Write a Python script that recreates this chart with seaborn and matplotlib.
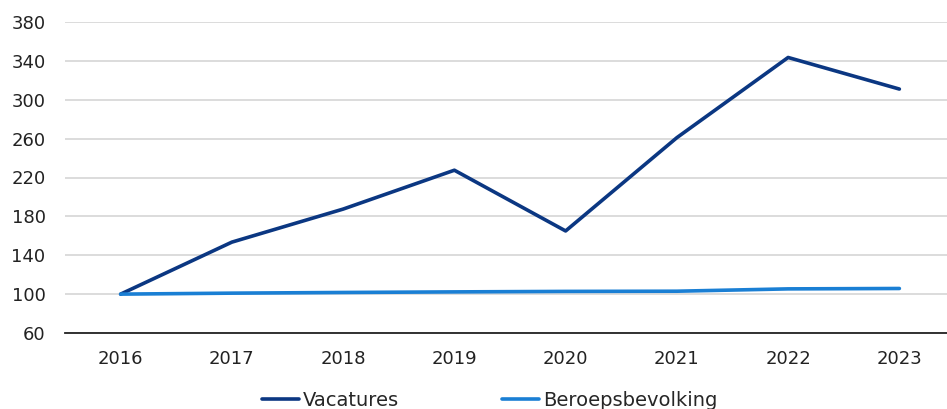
import matplotlib
matplotlib.use("Agg")
import matplotlib.pyplot as plt
import seaborn as sns
import pandas as pd

years = ["2016", "2017", "2018", "2019", "2020", "2021", "2022", "2023"]
vacatures = [100, 153.5, 187.5, 227.5, 165, 261, 343.5, 311]
beroepsbevolking = [100, 101, 101.7, 102.3, 102.8, 103.0, 105.4, 105.8]
series_names = ["Vacatures", "Beroepsbevolking"]
colors = ["#0b3782", "#1a7fd4"]

df = pd.DataFrame({
    "jaar": years * 2,
    "index": vacatures + beroepsbevolking,
    "reeks": [series_names[0]] * len(years) + [series_names[1]] * len(years),
})

sns.set_style("white")
plt.rcParams["font.family"] = ["DejaVu Sans"]

fig = plt.figure(figsize=(9.47, 4.09), dpi=100)
ax = fig.add_axes([65 / 947, 76 / 409, 890 / 947, 311 / 409])

sns.lineplot(data=df, x="jaar", y="index", hue="reeks", palette=colors,
             linewidth=2.6, ax=ax, sort=False)

ax.set_xlim(-0.5, 7.5)
ax.set_ylim(60, 380)
ax.set_yticks(range(60, 381, 40))
ax.yaxis.grid(True, color="#d9d9d9", linewidth=1.3)
ax.set_axisbelow(True)
for side in ["top", "right", "left"]:
    ax.spines[side].set_visible(False)
ax.spines["bottom"].set_color("#222222")
ax.spines["bottom"].set_linewidth(1.3)
ax.tick_params(axis="y", length=0, pad=14, labelsize=13, labelcolor="#222222")
ax.tick_params(axis="x", length=0, pad=12, labelsize=13, labelcolor="#222222")
ax.set_xlabel("")
ax.set_ylabel("")

# legend sits at the bottom edge, slightly cut off like the original
handles, labels = ax.get_legend_handles_labels()
ax.get_legend().remove()
fig.legend(handles, labels, loc="center left", bbox_to_anchor=(262 / 947, 1 - 400 / 409),
           ncol=2, frameon=False, fontsize=14, handlelength=1.9, borderpad=0,
           borderaxespad=0, handletextpad=0.2, columnspacing=5.3)

fig.savefig("out.png", dpi=100)
